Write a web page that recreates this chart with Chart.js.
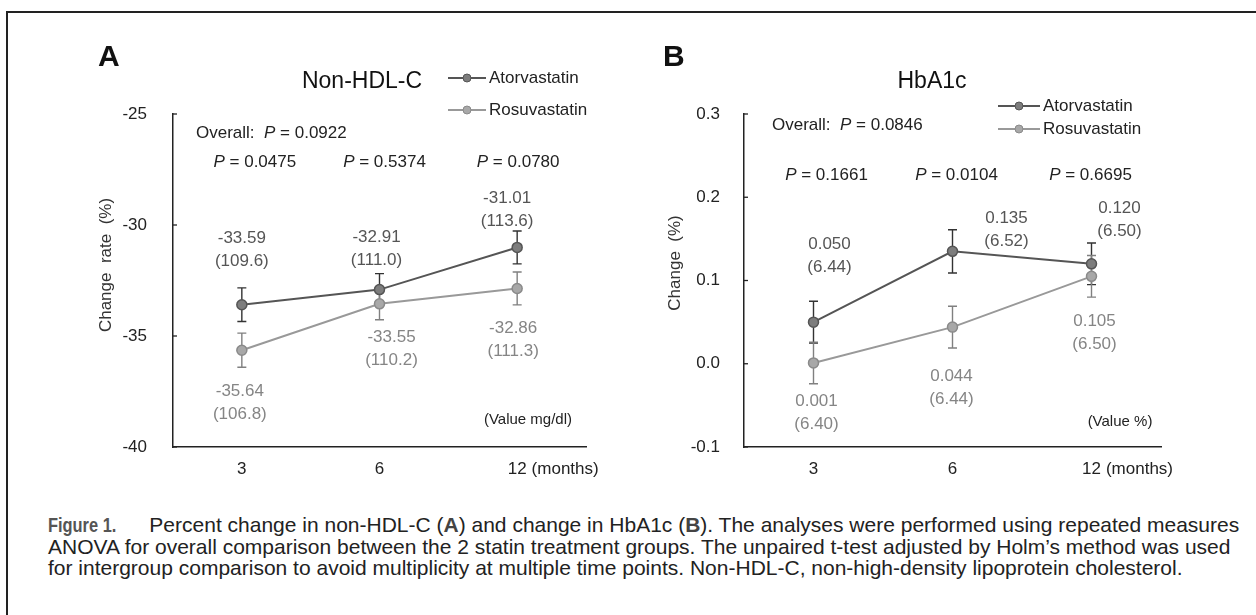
<!DOCTYPE html>
<html>
<head>
<meta charset="utf-8">
<script src="https://cdn.jsdelivr.net/npm/chart.js@4.4.1/dist/chart.umd.min.js"></script>
<style>
    html, body { margin: 0; padding: 0; background: #fff; }
    #figura { position: relative; width: 1256px; height: 615px; overflow: hidden; }
    #marco { position: absolute; left: 6px; top: 11px; width: 1300px; height: 700px; border-left: 2px solid #222; border-top: 2px solid #222; }
    .panel { position: absolute; top: 0; width: 628px; height: 500px; }
    #panelA { left: 0; }
    #panelB { left: 628px; }
    #leyenda { position: absolute; left: 48px; top: 514px; font-family: 'Liberation Sans', Arial, sans-serif; font-size: 21px; line-height: 21px; color: #222; white-space: nowrap; }
    #leyenda .fig { display: inline-block; font-weight: bold; font-size: 20px; color: #555; transform: scaleX(0.82); transform-origin: left center; margin-right: 18px; }
    #leyenda .neg { font-weight: bold; color: #444; }
</style>
</head>
<body>
<div id="figura">
    <div id="marco"></div>
    <div class="panel" id="panelA"><canvas id="graficaA"></canvas></div>
    <div class="panel" id="panelB"><canvas id="graficaB"></canvas></div>
    <div id="leyenda"><span class="fig">Figure 1.</span>Percent change in non-HDL-C (<span class="neg">A</span>) and change in HbA1c (<span class="neg">B</span>). The analyses were performed using repeated measures<br>ANOVA for overall comparison between the 2 statin treatment groups. The unpaired t-test adjusted by Holm’s method was used<br>for intergroup comparison to avoid multiplicity at multiple time points. Non-HDL-C, non-high-density lipoprotein cholesterol.</div>
</div>
<script>
const meses = ['3', '6', '12'];
const series = ['Atorvastatin', 'Rosuvastatin'];

// A: Non-HDL-C, change rate (%)
const atorA = [-33.59, -32.91, -31.01];
const rosuA = [-35.64, -33.55, -32.86];
const atorA_se = [0.76, 0.72, 0.74];
const rosuA_se = [0.77, 0.72, 0.74];
const atorA_basal = ['109.6', '111.0', '113.6'];
const rosuA_basal = ['106.8', '110.2', '111.3'];
const pA = ['0.0475', '0.5374', '0.0780'];
const pGlobalA = '0.0922';

// B: HbA1c, change (%)
const atorB = [0.050, 0.135, 0.120];
const rosuB = [0.001, 0.044, 0.105];
const atorB_se = [0.025, 0.026, 0.025];
const rosuB_se = [0.025, 0.025, 0.025];
const atorB_basal = ['6.44', '6.52', '6.50'];
const rosuB_basal = ['6.40', '6.44', '6.50'];
const pB = ['0.1661', '0.0104', '0.6695'];
const pGlobalB = '0.0846';

const fuente = "'Liberation Sans', Arial, Helvetica, sans-serif";
Chart.defaults.font.family = fuente;
Chart.defaults.font.size = 17;
Chart.defaults.color = '#222';

const estilo = {
    linea: ['#555555', '#999999'],
    relleno: ['#7d7d7d', '#a8a8a8'],
    borde: ['#555555', '#8a8a8a'],
    error: ['#333333', '#808080'],
    etiqueta: ['#555555', '#858585']
};

function escribir(ctx, str, x, y, font, color, align) {
    ctx.font = font;
    ctx.fillStyle = color;
    ctx.textAlign = align || 'center';
    ctx.textBaseline = 'middle';
    ctx.fillText(str, x, y);
}

// "prefijo P = valor" con la P en cursiva
function escribirP(ctx, prefijo, valor, x, y, align) {
    const normal = '17px ' + fuente, cursiva = 'italic 17px ' + fuente;
    ctx.font = normal;
    const w0 = ctx.measureText(prefijo).width;
    const resto = ' = ' + valor;
    const w2 = ctx.measureText(resto).width;
    ctx.font = cursiva;
    const w1 = ctx.measureText('P').width;
    let x0 = align === 'center' ? x - (w0 + w1 + w2) / 2 : x;
    escribir(ctx, prefijo, x0, y, normal, '#222', 'left');
    escribir(ctx, 'P', x0 + w0, y, cursiva, '#222', 'left');
    escribir(ctx, resto, x0 + w0 + w1, y, normal, '#222', 'left');
}

function decorar(cfg) {
    return {
        id: 'decorar' + cfg.letra,
        beforeDatasetsDraw(chart) {
            const ctx = chart.ctx, sx = chart.scales.x, sy = chart.scales.y;
            ctx.save();
            ctx.lineWidth = 1.4;
            cfg.errores.forEach((se, i) => {
                ctx.strokeStyle = estilo.error[i];
                chart.data.datasets[i].data.forEach((v, j) => {
                    const px = sx.getPixelForValue(j);
                    const arriba = sy.getPixelForValue(v + se[j]);
                    const abajo = sy.getPixelForValue(v - se[j]);
                    ctx.beginPath();
                    ctx.moveTo(px, arriba); ctx.lineTo(px, abajo);
                    ctx.moveTo(px - 4.5, arriba); ctx.lineTo(px + 4.5, arriba);
                    ctx.moveTo(px - 4.5, abajo); ctx.lineTo(px + 4.5, abajo);
                    ctx.stroke();
                });
            });
            ctx.restore();
        },
        afterDraw(chart) {
            const ctx = chart.ctx, sx = chart.scales.x, sy = chart.scales.y;
            const area = chart.chartArea;
            ctx.save();

            // marcas del eje y hacia dentro
            ctx.strokeStyle = '#222';
            ctx.lineWidth = 1.3;
            sy.ticks.forEach(t => {
                const py = sy.getPixelForValue(t.value);
                ctx.beginPath();
                ctx.moveTo(area.left, py);
                ctx.lineTo(area.left + 4, py);
                ctx.stroke();
            });

            // "(months)" a la derecha del ultimo mes
            const ultimo = meses.length - 1;
            ctx.font = '17px ' + fuente;
            const wMes = ctx.measureText(meses[ultimo]).width;
            const yMes = sx.top + sx.options.ticks.padding + 17 * 1.2 / 2;
            escribir(ctx, '(months)', sx.getPixelForValue(ultimo) + wMes / 2 + 5, yMes, '17px ' + fuente, '#222', 'left');

            // letra del panel, titulo y titulo del eje y
            escribir(ctx, cfg.letra, cfg.letraX, cfg.letraY, 'bold 30px ' + fuente, '#111', 'left');
            escribir(ctx, cfg.titulo, cfg.tituloX, cfg.tituloY, '23px ' + fuente, '#111', 'center');
            ctx.save();
            ctx.translate(cfg.ejeYX, cfg.ejeYY);
            ctx.rotate(-Math.PI / 2);
            escribir(ctx, cfg.ejeY, 0, 0, '17px ' + fuente, '#333', 'center');
            ctx.restore();

            // leyenda
            series.forEach((nombre, i) => {
                const y = cfg.leyenda.y[i];
                ctx.strokeStyle = estilo.linea[i];
                ctx.lineWidth = 2;
                ctx.beginPath();
                ctx.moveTo(cfg.leyenda.x0, y);
                ctx.lineTo(cfg.leyenda.x1, y);
                ctx.stroke();
                ctx.beginPath();
                ctx.arc((cfg.leyenda.x0 + cfg.leyenda.x1) / 2, y, 4, 0, Math.PI * 2);
                ctx.fillStyle = estilo.relleno[i];
                ctx.fill();
                ctx.strokeStyle = estilo.borde[i];
                ctx.lineWidth = 1;
                ctx.stroke();
                escribir(ctx, nombre, cfg.leyenda.x1 + 3, y, '17px ' + fuente, '#222', 'left');
            });

            // valores P
            escribirP(ctx, 'Overall:  ', cfg.global.texto, cfg.global.x, cfg.global.y, 'left');
            cfg.pvals.valores.forEach((p, j) => {
                escribirP(ctx, '', p, sx.getPixelForValue(j) + cfg.pvals.dx[j], cfg.pvals.y, 'center');
            });

            // etiquetas de cada punto: cambio y (valor)
            chart.data.datasets.forEach((ds, i) => {
                ds.data.forEach((v, j) => {
                    const px = sx.getPixelForValue(j) + cfg.offsets[i][j][0];
                    const py = sy.getPixelForValue(v) + cfg.offsets[i][j][1];
                    escribir(ctx, v.toFixed(cfg.decimales), px, py, '17px ' + fuente, estilo.etiqueta[i], 'center');
                    escribir(ctx, '(' + cfg.basal[i][j] + ')', px, py + 23, '17px ' + fuente, estilo.etiqueta[i], 'center');
                });
            });

            escribir(ctx, cfg.unidad.texto, cfg.unidad.x, cfg.unidad.y, '15px ' + fuente, '#222', 'center');
            ctx.restore();
        }
    };
}

function crearGrafica(id, ator, rosu, yMin, yMax, paso, decTicks, pad, ticksPad, cfg) {
    return new Chart(document.getElementById(id), {
        type: 'line',
        data: {
            labels: meses,
            datasets: [ator, rosu].map((d, i) => ({
                label: series[i],
                data: d,
                borderColor: estilo.linea[i],
                borderWidth: 2,
                pointRadius: 5,
                pointBorderWidth: 1.5,
                pointBackgroundColor: estilo.relleno[i],
                pointBorderColor: estilo.borde[i],
                tension: 0
            }))
        },
        options: {
            responsive: true,
            maintainAspectRatio: false,
            animation: false,
            layout: { padding: pad },
            plugins: {
                legend: { display: false },
                tooltip: { enabled: false }
            },
            scales: {
                x: {
                    offset: true,
                    grid: { display: false, drawTicks: false },
                    border: { display: true, color: '#222', width: 1.5 },
                    ticks: { padding: 12, color: '#222', font: { size: 17 } },
                    afterFit: s => { s.height = 53; }
                },
                y: {
                    min: yMin,
                    max: yMax,
                    grid: { display: false, drawTicks: false },
                    border: { display: true, color: '#222', width: 1.5 },
                    ticks: {
                        stepSize: paso,
                        padding: ticksPad,
                        color: '#222',
                        font: { size: 17 },
                        callback: v => Number(v).toFixed(decTicks)
                    },
                    afterFit: s => { s.width = 60; }
                }
            }
        },
        plugins: [decorar(cfg)]
    });
}

crearGrafica('graficaA', atorA, rosuA, -40, -25, 5, 0,
    { left: 113, right: 42, top: 114, bottom: 0 }, 26, {
        letra: 'A', letraX: 98, letraY: 58,
        titulo: 'Non-HDL-C', tituloX: 362, tituloY: 82,
        ejeY: 'Change  rate  (%)', ejeYX: 106, ejeYY: 265,
        leyenda: { x0: 448, x1: 486, y: [78, 110] },
        global: { texto: pGlobalA, x: 196, y: 133 },
        pvals: { valores: pA, dx: [13, 5, 1], y: 162 },
        errores: [atorA_se, rosuA_se],
        basal: [atorA_basal, rosuA_basal],
        decimales: 2,
        offsets: [[[0, -66], [-3, -52], [-10, -49]], [[-2, 41], [12, 34], [-4, 40]]],
        unidad: { texto: '(Value mg/dl)', x: 528, y: 420 }
    });

crearGrafica('graficaB', atorB, rosuB, -0.1, 0.3, 0.1, 1,
    { left: 56, right: 95, top: 114, bottom: 0 }, 24, {
        letra: 'B', letraX: 35, letraY: 58,
        titulo: 'HbA1c', tituloX: 304, tituloY: 82,
        ejeY: 'Change  (%)', ejeYX: 47, ejeYY: 263,
        leyenda: { x0: 370, x1: 412, y: [106, 129] },
        global: { texto: pGlobalB, x: 144, y: 125 },
        pvals: { valores: pB, dx: [13, 4, -1], y: 175 },
        errores: [atorB_se, rosuB_se],
        basal: [atorB_basal, rosuB_basal],
        decimales: 3,
        offsets: [[[16, -78], [54, -33], [28, -56]], [[3, 38], [-1, 49], [3, 45]]],
        unidad: { texto: '(Value %)', x: 492, y: 422 }
    });
</script>
</body>
</html>
